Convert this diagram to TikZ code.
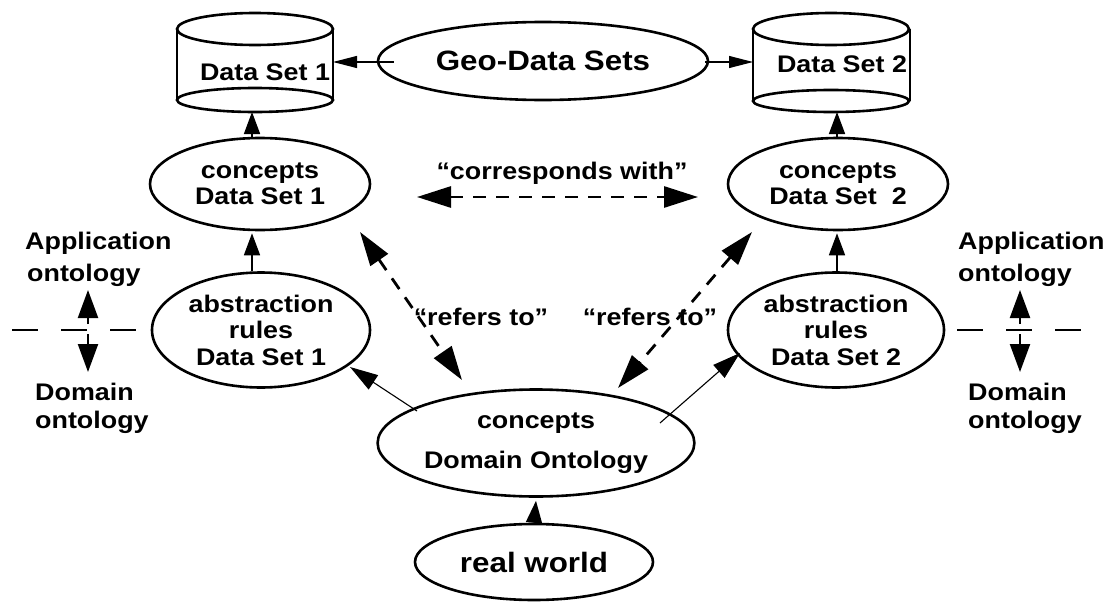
\documentclass[tikz,border=0pt]{standalone}
\usepackage{fontspec}
\newfontfamily\lab{Liberation Sans}[FakeStretch=1.12]
\usetikzlibrary{shapes.geometric,arrows.meta}
\begin{document}
\begin{tikzpicture}[x=1pt,y=-1pt,
  txt/.style={font=\lab\bfseries\fontsize{24}{30}\selectfont, inner sep=0pt},
  bigtxt/.style={font=\lab\bfseries\fontsize{28}{34}\selectfont, inner sep=0pt},
  ell/.style={draw, ellipse, line width=2.6pt, inner sep=0pt, align=center},
  cyl/.style={line width=2.6pt},
  arr/.style={-{Triangle[length=22pt,width=16pt]}, line width=1.6pt},
  sidearr/.style={-{Triangle[length=28pt,width=20pt]}, line width=2.2pt},
  thinarr/.style={-{Triangle[length=28pt,width=17pt]}, line width=1.1pt},
  geoarr/.style={-{Triangle[length=24pt,width=12pt]}, line width=1.1pt},
  dasharr/.style={{Triangle[length=34pt,width=21pt]}-{Triangle[length=34pt,width=21pt]}, line width=2.8pt, dash pattern=on 13pt off 10pt},
  sidedash/.style={line width=2.4pt, dash pattern=on 26pt off 23pt},
]
\useasboundingbox (0,0) rectangle (1109,605);

% cylinders
\draw[cyl] (177,29) -- (177,100) (333,29) -- (333,100);
\draw[cyl] (255,29) ellipse [x radius=78pt, y radius=16pt];
\draw[cyl] (255,100) ellipse [x radius=78pt, y radius=12pt];
\node[txt] (ds1) at (265,72) {Data Set 1};
\coordinate (ds1e) at (333,62);
\coordinate (ds1b) at (252,112);

\draw[cyl] (753,29) -- (753,101) (910,29) -- (910,101);
\draw[cyl] (831,29) ellipse [x radius=78pt, y radius=16pt];
\draw[cyl] (831,101) ellipse [x radius=78pt, y radius=11pt];
\node[txt] (ds2) at (842,64) {Data Set 2};
\coordinate (ds2w) at (753,62);
\coordinate (ds2b) at (837,112);

% ellipses
\node[ell, bigtxt, minimum width=330pt, minimum height=78pt] (geo) at (543,61) {Geo-Data Sets};
\node[ell, txt, minimum width=220pt, minimum height=92pt, font=\lab\bfseries\fontsize{24}{26}\selectfont] (c1) at (260,184) {concepts\\Data Set 1};
\node[ell, txt, minimum width=220pt, minimum height=92pt, font=\lab\bfseries\fontsize{24}{26}\selectfont] (c2) at (838,184) {concepts\\Data Set\ \ 2};
\node[ell, txt, minimum width=218pt, minimum height=115pt, font=\lab\bfseries\fontsize{24}{26.5}\selectfont] (a1) at (261,330) {abstraction\\rules\\Data Set 1};
\node[ell, txt, minimum width=216pt, minimum height=115pt, font=\lab\bfseries\fontsize{24}{26.5}\selectfont] (a2) at (836,330) {abstraction\\rules\\Data Set 2};
\node[ell, txt, minimum width=292pt, minimum height=107pt, font=\lab\bfseries\fontsize{24}{40}\selectfont] (dom) at (536,443) {concepts\\Domain Ontology};
\node[ell, bigtxt, minimum width=238pt, minimum height=76pt] (rw) at (534,562) {real world};

% solid arrows
\draw[geoarr] ([xshift=17pt]geo.west |- ds1e) -- (ds1e);
\draw[geoarr] ([xshift=-4pt]geo.east |- ds2w) -- (ds2w);
\draw[arr] (c1.north -| ds1b) -- (ds1b);
\draw[arr] (c2.north -| ds2b) -- (ds2b);
\draw[arr] (a1.north -| 252,0) -- ([yshift=-2pt]c1.south -| 252,0);
\draw[arr] (a2.north -| 837,0) -- ([yshift=-2pt]c2.south -| 837,0);
\draw[arr] (rw.north) -- ([yshift=-3pt]dom.south);

\coordinate (dl) at (417,411);
\coordinate (al) at (350,367);
\coordinate (dr) at (660,423);
\coordinate (ar) at (740,353);
\draw[thinarr] (dl) -- (al);
\draw[thinarr] (dr) -- (ar);

% dashed arrows
\coordinate (cw) at (417,197);
\coordinate (ce) at (698,197);
\draw[dasharr] (cw) -- (ce);
\node[txt] (corr) at (562,173) {“corresponds with”};

\coordinate (r1a) at (360,232);
\coordinate (r1b) at (462,380);
\coordinate (r2a) at (752,232);
\coordinate (r2b) at (618,388);
\draw[dasharr] (r1a) -- (r1b);
\draw[dasharr] (r2a) -- (r2b);
\node[txt] (ref1) at (481,317) {“refers to”};
\node[txt] (ref2) at (650,317) {“refers to”};

% left side
\draw[sidedash] (12,330) -- (137,330);
\coordinate (lm1) at (88,324);
\coordinate (lu) at (88,290);
\coordinate (lm2) at (88,334);
\coordinate (ld) at (88,372);
\draw[sidearr] (lm1) -- (lu);
\draw[sidearr] (lm2) -- (ld);
\node[txt, anchor=west] (lapp) at (25,243) {Application};
\node[txt, anchor=west] (lont1) at (27,275) {ontology};
\node[txt, anchor=west] (ldom) at (35,392) {Domain};
\node[txt, anchor=west] (lont2) at (35,422) {ontology};

% right side
\draw[sidedash] (957,330) -- (1082,330);
\coordinate (rm1) at (1020,324);
\coordinate (ru) at (1020,290);
\coordinate (rm2) at (1020,334);
\coordinate (rd) at (1020,372);
\draw[sidearr] (rm1) -- (ru);
\draw[sidearr] (rm2) -- (rd);
\node[txt, anchor=west] (rapp) at (958,243) {Application};
\node[txt, anchor=west] (ront1) at (958,275) {ontology};
\node[txt, anchor=west] (rdom) at (968,392) {Domain};
\node[txt, anchor=west] (ront2) at (968,422) {ontology};
\end{tikzpicture}
\end{document}
